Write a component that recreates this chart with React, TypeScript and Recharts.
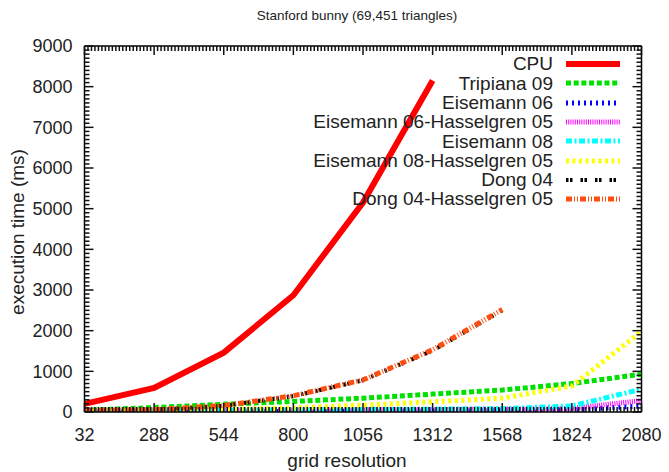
import { LineChart, Line, XAxis, YAxis, ReferenceLine } from "recharts";

// grid resolution (x) and execution times in ms
const gridRes = [32, 288, 544, 800, 1056, 1312, 1568, 1824, 2080];
const cpu = [200, 590, 1460, 2870, 5150, 8150, null, null, null];
const tripiana09 = [40, 110, 190, 260, 340, 440, 540, 700, 930];
const eisemann06 = [0, 5, 10, 15, 20, 25, 30, 50, 150];
const eisemann06h = [20, 30, 40, 50, 60, 60, 70, 90, 280];
const eisemann08 = [10, 20, 40, 50, 60, 70, 80, 150, 560];
const eisemann08h = [20, 30, 60, 100, 170, 250, 340, 640, 1980];
const dong04 = [40, 60, 150, 390, 780, 1510, 2500, null, null];
const dong04h = [40, 60, 160, 400, 790, 1530, 2520, null, null];

const xTicks = [32, 288, 544, 800, 1056, 1312, 1568, 1824, 2080];
const yTicks = [0, 1000, 2000, 3000, 4000, 5000, 6000, 7000, 8000, 9000];
const xMinor = Array.from({ length: 161 }, (_, i) => 32 + i * 12.8);
const yMinor = Array.from({ length: 91 }, (_, i) => i * 100);

const series = [
  { key: "cpu", name: "CPU", values: cpu, color: "#ff0000", width: 6, dash: undefined },
  { key: "tripiana09", name: "Tripiana 09", values: tripiana09, color: "#00e000", width: 5, dash: "5 2.7" },
  { key: "eisemann06", name: "Eisemann 06", values: eisemann06, color: "#0000ff", width: 5, dash: "2 4" },
  { key: "eisemann06h", name: "Eisemann 06-Hasselgren 05", values: eisemann06h, color: "#ff00ff", width: 5, dash: "1 1.2" },
  { key: "eisemann08", name: "Eisemann 08", values: eisemann08, color: "#00ffff", width: 5, dash: "6 2.5 2 2.5" },
  { key: "eisemann08h", name: "Eisemann 08-Hasselgren 05", values: eisemann08h, color: "#ffff00", width: 5, dash: "3 3.5" },
  { key: "dong04", name: "Dong 04", values: dong04, color: "#000000", width: 4, dash: "2.5 1.5 2.5 8" },
  { key: "dong04h", name: "Dong 04-Hasselgren 05", values: dong04h, color: "#ff4e10", width: 5, dash: "6 2 1 2 1 2" },
];

const data = gridRes.map((g, i) => {
  const row: Record<string, number | null> = { grid: g };
  series.forEach((s) => (row[s.key] = s.values[i]));
  return row;
});

const font = "'Liberation Sans', Arial, sans-serif";
const textColor = "#222";
const border = { stroke: "#000", strokeWidth: 1.5 };

// plot box edges (follow from the chart margins / axis sizes below)
const PLOT_TOP = 46;
const PLOT_BOTTOM = 412;
const PLOT_LEFT = 84.5;
const PLOT_RIGHT = 641.5;

const isMajor = (v: number, majors: number[]) => majors.some((m) => Math.abs(m - v) < 1e-6);

// gnuplot style: inward ticks on both sides, labels only on the major ones
const XTick = (props: any) => {
  const { x, y, payload } = props;
  const major = isMajor(payload.value, xTicks);
  const len = major ? 9 : 5;
  return (
    <g>
      <line x1={x} y1={PLOT_BOTTOM} x2={x} y2={PLOT_BOTTOM - len} stroke="#111" strokeWidth={1.5} />
      <line x1={x} y1={PLOT_TOP} x2={x} y2={PLOT_TOP + len} stroke="#111" strokeWidth={1.5} />
      {major && (
        <text x={x} y={y} dy="0.71em" textAnchor="middle" fill={textColor} fontSize={18} fontFamily={font}>
          {Math.round(payload.value)}
        </text>
      )}
    </g>
  );
};

const YTick = (props: any) => {
  const { x, y, payload } = props;
  const major = isMajor(payload.value, yTicks);
  const len = major ? 9 : 5;
  return (
    <g>
      <line x1={PLOT_LEFT} y1={y} x2={PLOT_LEFT + len} y2={y} stroke="#111" strokeWidth={1.5} />
      <line x1={PLOT_RIGHT} y1={y} x2={PLOT_RIGHT - len} y2={y} stroke="#111" strokeWidth={1.5} />
      {major && (
        <text x={x} y={y} dy="0.355em" textAnchor="end" fill={textColor} fontSize={18} fontFamily={font}>
          {payload.value}
        </text>
      )}
    </g>
  );
};

export default function App() {
  return (
    <div style={{ position: "absolute", left: 0, top: 0, width: 669, height: 472, background: "#fff", fontFamily: font }}>
      <LineChart width={669} height={472} data={data} margin={{ top: 46, right: 27.5, bottom: 0, left: 0 }}>
        <XAxis
          xAxisId="x"
          dataKey="grid"
          type="number"
          domain={[32, 2080]}
          allowDataOverflow
          ticks={xMinor}
          interval={0}
          height={60}
          tickLine={false}
          tickSize={6}
          tickMargin={10}
          axisLine={border}
          tick={<XTick />}
        />
        <YAxis
          yAxisId="y"
          type="number"
          domain={[0, 9000]}
          allowDataOverflow
          ticks={yMinor}
          interval={0}
          width={84.5}
          tickLine={false}
          tickSize={6}
          tickMargin={6}
          axisLine={border}
          tick={<YTick />}
        />
        <ReferenceLine xAxisId="x" yAxisId="y" x={2080} stroke="#000" strokeWidth={1.5} />
        <ReferenceLine xAxisId="x" yAxisId="y" y={9000} stroke="#000" strokeWidth={1.5} />
        {series.map((s) => (
          <Line
            key={s.key}
            xAxisId="x"
            yAxisId="y"
            type="linear"
            dataKey={s.key}
            name={s.name}
            stroke={s.color}
            strokeWidth={s.width}
            strokeDasharray={s.dash}
            dot={false}
            activeDot={false}
            isAnimationActive={false}
          />
        ))}
      </LineChart>

      <div style={{ position: "absolute", left: 0, width: 714, top: 8, textAlign: "center", fontSize: 13.5, color: textColor }}>
        Stanford bunny (69,451 triangles)
      </div>
      <div style={{ position: "absolute", left: 0, width: 694, top: 450, textAlign: "center", fontSize: 19, color: textColor }}>
        grid resolution
      </div>
      <div
        style={{
          position: "absolute",
          left: 18,
          top: 232,
          transform: "translate(-50%, -50%) rotate(-90deg)",
          whiteSpace: "nowrap",
          fontSize: 19,
          color: textColor,
        }}
      >
        execution time (ms)
      </div>

      <div style={{ position: "absolute", left: 0, top: 54.4, width: 620, fontSize: 19, color: textColor }}>
        {series.map((s) => (
          <div key={s.key} style={{ display: "flex", justifyContent: "flex-end", alignItems: "center", height: 19.3 }}>
            <span style={{ whiteSpace: "nowrap", marginRight: 13, lineHeight: "19.3px" }}>{s.name}</span>
            <svg width={54} height={10} style={{ display: "block" }}>
              <line x1={0} y1={5} x2={54} y2={5} stroke={s.color} strokeWidth={s.width} strokeDasharray={s.dash} />
            </svg>
          </div>
        ))}
      </div>
    </div>
  );
}
